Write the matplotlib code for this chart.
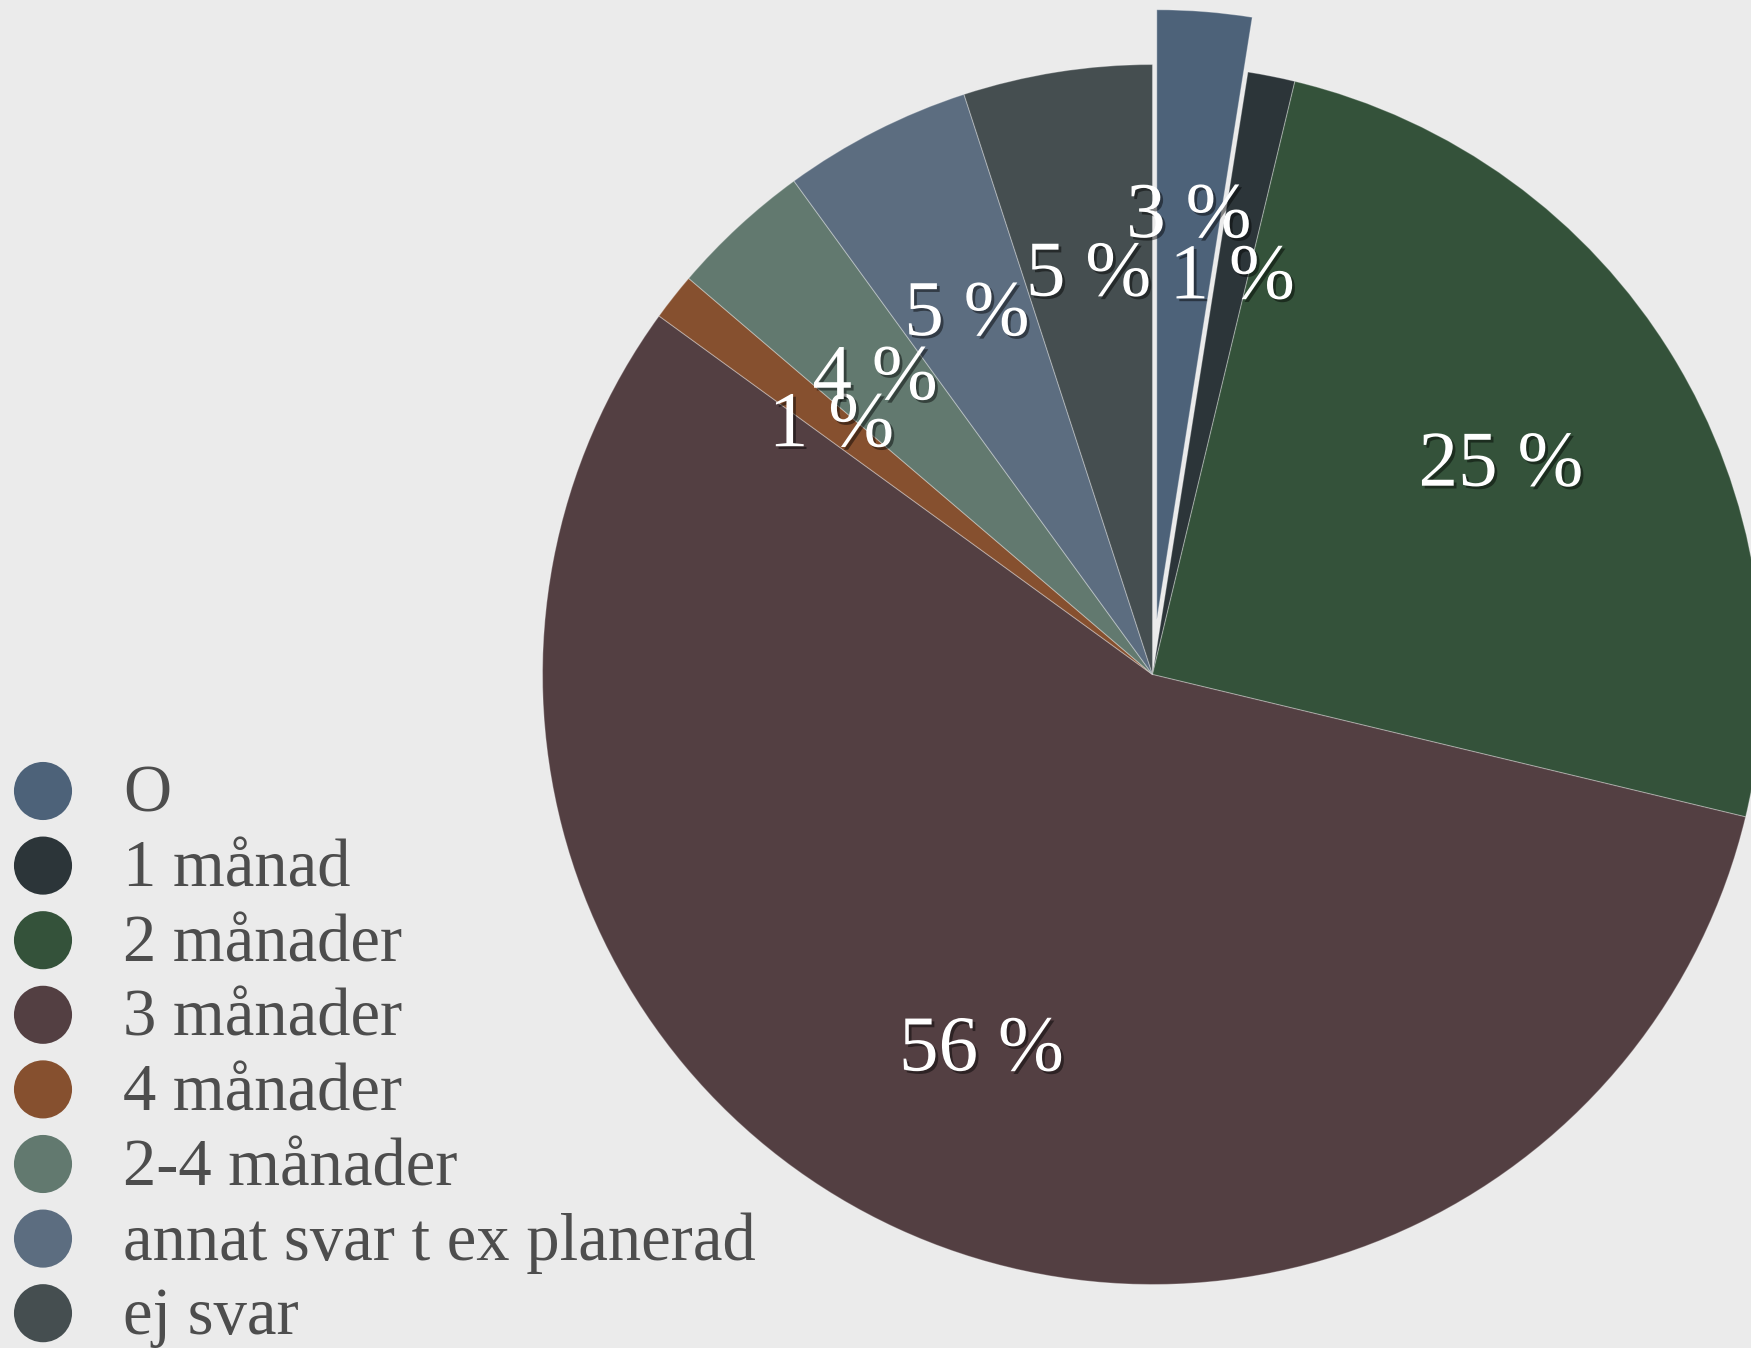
import math
import matplotlib
matplotlib.use("Agg")
import matplotlib.pyplot as plt
import matplotlib.patheffects as pe

# ---- data ----
categories = ["O", "1 månad", "2 månader", "3 månader", "4 månader",
              "2-4 månader", "annat svar t ex planerad", "ej svar"]
counts = [2, 1, 20, 45, 1, 3, 4, 4]
colors = ["#4d6279", "#2c3539", "#34523a", "#533f42", "#86502f",
          "#62796f", "#5c6d80", "#454e50"]
explode_frac = [0.09, 0, 0, 0, 0, 0, 0, 0]

W, H = 1751, 1348
R = 610
fig = plt.figure(figsize=(W / 100, H / 100), dpi=100)
fig.patch.set_facecolor("#ebebeb")
ax = fig.add_axes([0, 0, 1, 1])
ax.set_facecolor("#ebebeb")

def fmt(p):
    return f"{math.floor(p + 0.5)} %"

wedges, texts, autotexts = ax.pie(
    counts, colors=colors, startangle=90, counterclock=False,
    explode=[f * R for f in explode_frac], center=(1152.5, 673.5), radius=R,
    autopct=fmt, pctdistance=0.67,
    wedgeprops=dict(edgecolor=(1, 1, 1, 0.3), linewidth=0.8),
    textprops=dict(color="white", fontsize=57, family="Liberation Serif"),
)
shadow = [pe.withSimplePatchShadow(offset=(2, -2), shadow_rgbFace="black", alpha=0.45)]
for t in autotexts:
    t.set_path_effects(shadow)
    x, y = t.get_position()
    t.set_position((x, y - 6))

ax.set_xlim(0, W)
ax.set_ylim(0, H)
ax.set_aspect("equal")
ax.axis("off")

# ---- legend ----
y0, dy = 791, 74.6
for i, (lab, col) in enumerate(zip(categories, colors)):
    yc = H - (y0 + dy * i)
    ax.scatter([43], [yc], s=1750, color=col, edgecolors="none", zorder=3, clip_on=False)
    ax.text(123, yc - 21, lab, fontsize=48, family="Liberation Serif",
            color="#4d4d4d", ha="left", va="baseline")

fig.savefig("out.png", dpi=100, facecolor=fig.get_facecolor())
